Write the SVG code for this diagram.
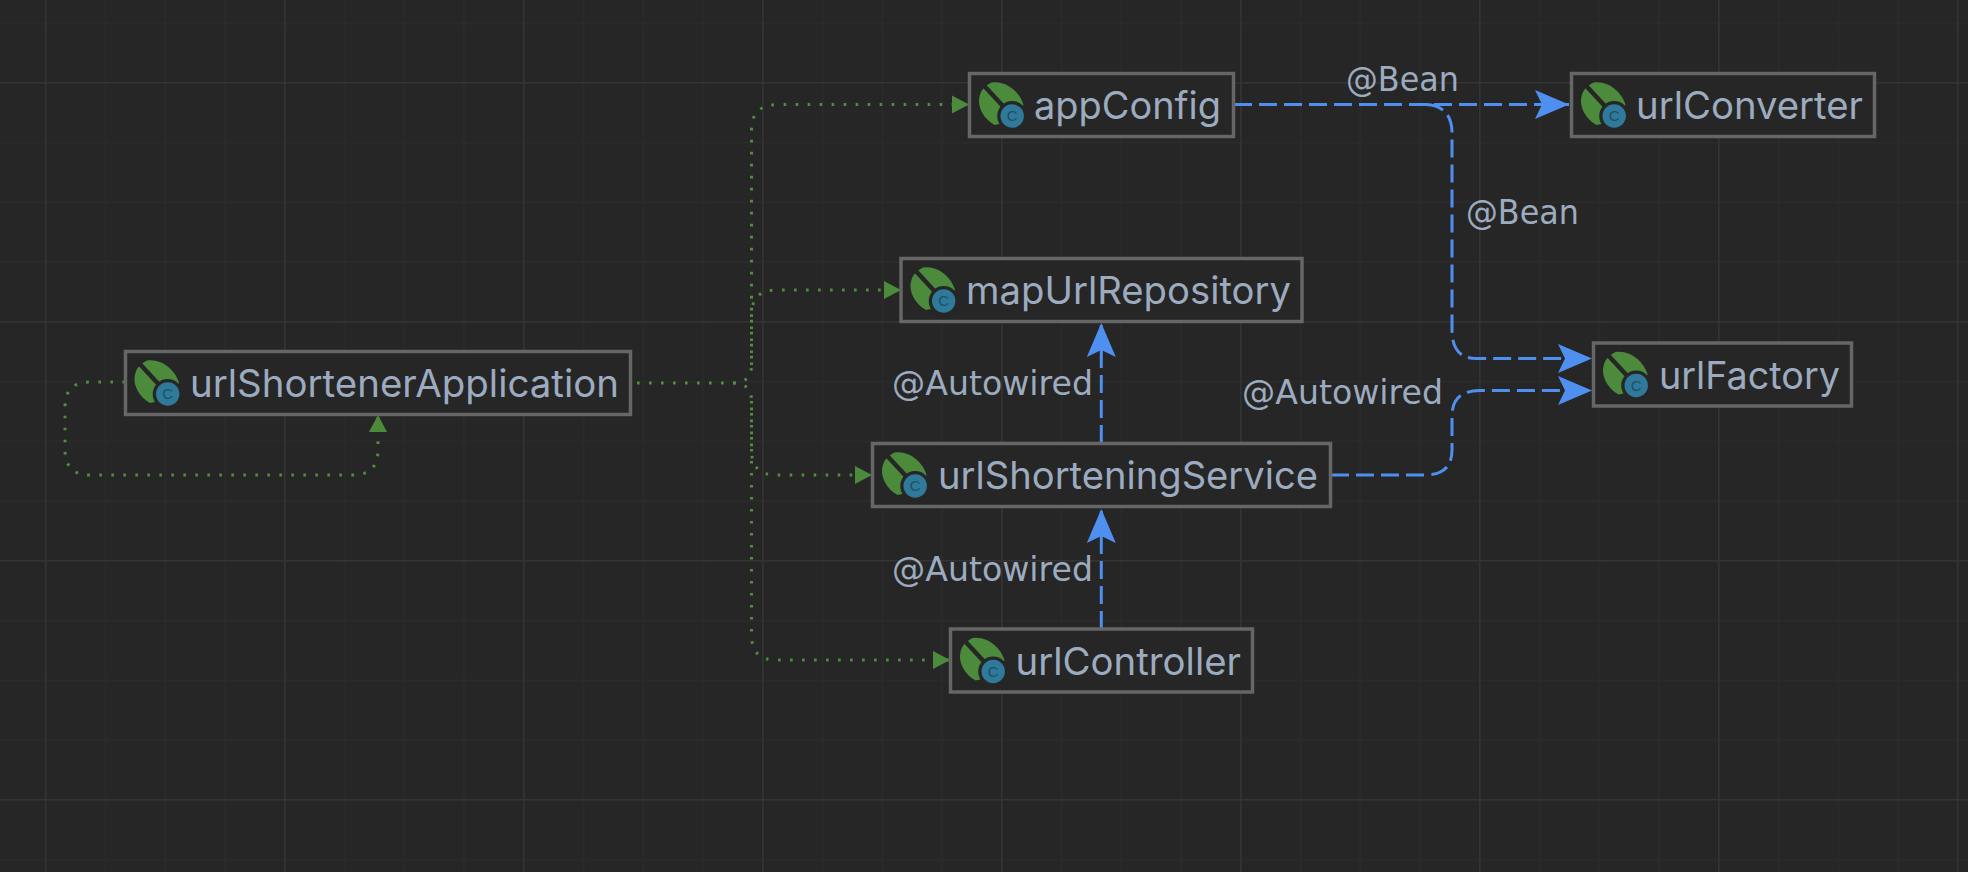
<svg xmlns="http://www.w3.org/2000/svg" width="1968" height="872" viewBox="0 0 1968 872">
<defs>
<style>
.node{fill:#262626;stroke:#666;stroke-width:3.5}
.label{font-family:"Inter","Liberation Sans",sans-serif;font-size:38px;fill:#9cabbf}
.edge{font-family:"DejaVu Sans","Liberation Sans",sans-serif;font-size:34px;fill:#9cabbf}
.dot{fill:none;stroke:#4f8f3e;stroke-width:3;stroke-dasharray:2.6 9.4}
.dash{fill:none;stroke:#4f8ff0;stroke-width:3;stroke-dasharray:18 7}
.c{font-family:"Liberation Sans",sans-serif;font-size:15px;fill:#1d4f66;text-anchor:middle}
</style>
<pattern id="minor" width="59.75" height="59.75" patternUnits="userSpaceOnUse" x="45" y="22.25">
<path d="M0.5 0V59.75M0 0.5H59.75" stroke="#2b2b2b" stroke-width="2" fill="none"/>
</pattern>
<pattern id="major" width="239" height="239" patternUnits="userSpaceOnUse" x="45" y="82">
<path d="M0.5 0V239M0 0.5H239" stroke="#343434" stroke-width="2" fill="none"/>
</pattern>
<marker id="ga" markerUnits="userSpaceOnUse" markerWidth="18" markerHeight="20" refX="17" refY="10" orient="auto">
<path d="M0 1L17 10L0 19Z" fill="#4c8a3c"/>
</marker>
<marker id="ba" markerUnits="userSpaceOnUse" markerWidth="36" markerHeight="30" refX="34" refY="15" orient="auto">
<path d="M0 0.5L34 15L0 29.5L7 15Z" fill="#4f8ff0"/>
</marker>
<symbol id="bean" width="64" height="64" viewBox="0 0 64 64" overflow="visible">
<path d="M22 9.5C37 7 51 20 54 32C50 42 38 50 25 52C14 46 9 35 9.5 27C10 20 13 14 22 9.5Z" fill="#4c8a3c"/>
<path d="M13 11L38 38" stroke="#262626" stroke-width="4.5" fill="none"/>
<circle cx="42.7" cy="43" r="15" fill="#262626"/>
<circle cx="42.7" cy="43" r="11.7" fill="#2f7a9a"/>
</symbol>
</defs>
<rect width="1968" height="872" fill="#262626"/>
<rect width="1968" height="872" fill="url(#minor)"/>
<rect width="1968" height="872" fill="url(#major)"/>

<g id="connectors">
<path class="dot" d="M125 382H90Q65 382 65 407V450Q65 475 90 475H353Q378 475 378 450V415" marker-end="url(#ga)"/>
<path class="dot" d="M637 383H733Q751.5 383 751.5 365V130Q751.5 104.5 778 104.5H969" marker-end="url(#ga)"/>
<path class="dot" d="M751.5 365V315Q751.5 290 776 290H901" marker-end="url(#ga)"/>
<path class="dot" d="M733 383Q751.5 383 751.5 401V450Q751.5 475 776 475H872" marker-end="url(#ga)"/>
<path class="dot" d="M751.5 401V635Q751.5 660 776 660H950" marker-end="url(#ga)"/>
<path class="dash" d="M1234 104.5H1569" marker-end="url(#ba)"/>
<path class="dash" d="M1426 104.5Q1452 106 1452 133V330Q1452 358.5 1476 358.5H1592" marker-end="url(#ba)"/>
<path class="dash" d="M1331 475H1425Q1452 475 1452 450V416Q1452 390.5 1480 390.5H1592" marker-end="url(#ba)"/>
<path class="dash" d="M1101.3 443V323" marker-end="url(#ba)"/>
<path class="dash" d="M1101.3 629V509" marker-end="url(#ba)"/>
<text class="edge" x="1346" y="91" textLength="113" lengthAdjust="spacingAndGlyphs">@Bean</text>
<text class="edge" x="1466" y="224" textLength="113" lengthAdjust="spacingAndGlyphs">@Bean</text>
<text class="edge" x="892" y="395" textLength="201" lengthAdjust="spacingAndGlyphs">@Autowired</text>
<text class="edge" x="1242" y="404" textLength="201" lengthAdjust="spacingAndGlyphs">@Autowired</text>
<text class="edge" x="892" y="581" textLength="201" lengthAdjust="spacingAndGlyphs">@Autowired</text>
</g>

<g id="urlShortenerApplication">
<rect class="node" x="125.5" y="351.5" width="505" height="63"/>
<use href="#bean" x="125" y="351"/>
<text class="c" x="167.7" y="399">C</text>
<text class="label" x="190" y="397" textLength="429" lengthAdjust="spacingAndGlyphs">urlShortenerApplication</text>
</g>
<g id="appConfig">
<rect class="node" x="969.5" y="73.5" width="264" height="63"/>
<use href="#bean" x="969.5" y="73"/>
<text class="c" x="1012.2" y="121">C</text>
<text class="label" x="1034" y="119" textLength="187" lengthAdjust="spacingAndGlyphs">appConfig</text>
</g>
<g id="mapUrlRepository">
<rect class="node" x="901" y="258.5" width="401" height="63"/>
<use href="#bean" x="901" y="258"/>
<text class="c" x="943.7" y="306">C</text>
<text class="label" x="966" y="304" textLength="325" lengthAdjust="spacingAndGlyphs">mapUrlRepository</text>
</g>
<g id="urlConverter">
<rect class="node" x="1571.5" y="73.5" width="303" height="63"/>
<use href="#bean" x="1571.5" y="73"/>
<text class="c" x="1614.2" y="121">C</text>
<text class="label" x="1636" y="119" textLength="227" lengthAdjust="spacingAndGlyphs">urlConverter</text>
</g>
<g id="urlFactory">
<rect class="node" x="1593.5" y="343" width="258" height="63"/>
<use href="#bean" x="1593.5" y="342.5"/>
<text class="c" x="1636.2" y="390.5">C</text>
<text class="label" x="1659" y="388.5" textLength="181" lengthAdjust="spacingAndGlyphs">urlFactory</text>
</g>
<g id="urlShorteningService">
<rect class="node" x="872.5" y="443.5" width="458" height="63"/>
<use href="#bean" x="872.5" y="443"/>
<text class="c" x="915.2" y="491">C</text>
<text class="label" x="938" y="489" textLength="380" lengthAdjust="spacingAndGlyphs">urlShorteningService</text>
</g>
<g id="urlController">
<rect class="node" x="950.5" y="629" width="302" height="63"/>
<use href="#bean" x="950.5" y="628.5"/>
<text class="c" x="993.2" y="676.5">C</text>
<text class="label" x="1015.5" y="675" textLength="225.5" lengthAdjust="spacingAndGlyphs">urlController</text>
</g>
</svg>
